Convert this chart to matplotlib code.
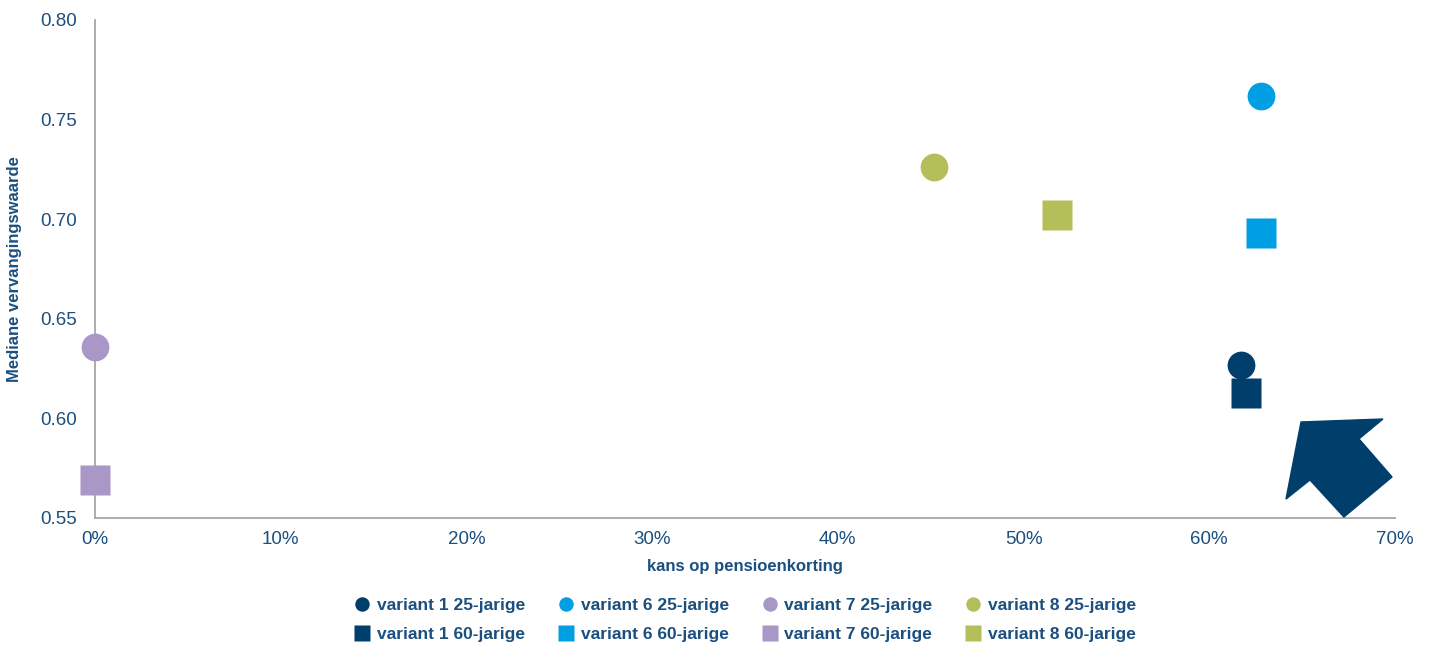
import matplotlib
matplotlib.use("Agg")
import matplotlib.pyplot as plt
from matplotlib.patches import Polygon
from matplotlib.ticker import FuncFormatter

# kans op pensioenkorting (%) en mediane vervangingswaarde per variant
variants = ["variant 1", "variant 6", "variant 7", "variant 8"]
kans_25 = [61.7, 62.8, 0.0, 45.2]
waarde_25 = [0.627, 0.762, 0.636, 0.726]
kans_60 = [62.0, 62.8, 0.0, 51.8]
waarde_60 = [0.613, 0.693, 0.569, 0.702]
colors = ["#003f6b", "#009fe3", "#a897c7", "#b5bf5a"]

# pijl rechtsonder (data-coördinaten)
arrow_shape = [(64.94, 0.5982), (69.35, 0.5997), (68.06, 0.5897), (69.84, 0.5706),
               (67.25, 0.5505), (65.42, 0.5691), (64.13, 0.5595)]

text_color = "#1b4f7f"
plt.rcParams["font.family"] = ["Liberation Sans", "DejaVu Sans"]

fig = plt.figure(figsize=(14.32, 6.53), dpi=100)
ax = fig.add_axes([95 / 1432, 1 - 518 / 653, 1300 / 1432, 498 / 653])

handles = []
for i, name in enumerate(variants):
    h, = ax.plot(kans_25[i], waarde_25[i], "o", ms=20, color=colors[i],
                 mec="none", clip_on=False, zorder=3, label=f"{name} 25-jarige")
    handles.append(h)
    h, = ax.plot(kans_60[i], waarde_60[i], "s", ms=21, color=colors[i],
                 mec="none", clip_on=False, zorder=3, label=f"{name} 60-jarige")
    handles.append(h)

ax.add_patch(Polygon(arrow_shape, closed=True, color="#003f6b", clip_on=False, zorder=4))

ax.set_xlim(0, 70)
ax.set_ylim(0.55, 0.80)
ax.set_xticks(range(0, 71, 10))
ax.set_yticks([0.55, 0.60, 0.65, 0.70, 0.75, 0.80])
ax.xaxis.set_major_formatter(FuncFormatter(lambda v, p: f"{v:.0f}%"))
ax.yaxis.set_major_formatter(FuncFormatter(lambda v, p: f"{v:.2f}"))
ax.tick_params(length=0, labelsize=13.5, labelcolor=text_color)
ax.tick_params(axis="x", pad=9)
ax.tick_params(axis="y", pad=13)

for side in ["top", "right"]:
    ax.spines[side].set_visible(False)
for side in ["left", "bottom"]:
    ax.spines[side].set_color("#a6a6a6")
    ax.spines[side].set_linewidth(1.3)

ax.set_xlabel("kans op pensioenkorting", fontsize=12, fontweight="bold", color=text_color)
ax.xaxis.set_label_coords(0.5, -0.083)
ax.set_ylabel("Mediane vervangingswaarde", fontsize=12, fontweight="bold", color=text_color)
ax.yaxis.set_label_coords(-0.056, 0.5)

leg = fig.legend(handles=handles, ncol=4, loc="center", bbox_to_anchor=(746 / 1432, 1 - 620 / 653),
                 frameon=False, markerscale=0.52, handlelength=0.7, handletextpad=0.5,
                 columnspacing=2.0, labelspacing=0.8,
                 prop={"weight": "bold", "size": 12.5})
for t in leg.get_texts():
    t.set_color(text_color)

fig.savefig("out.png", dpi=100)
